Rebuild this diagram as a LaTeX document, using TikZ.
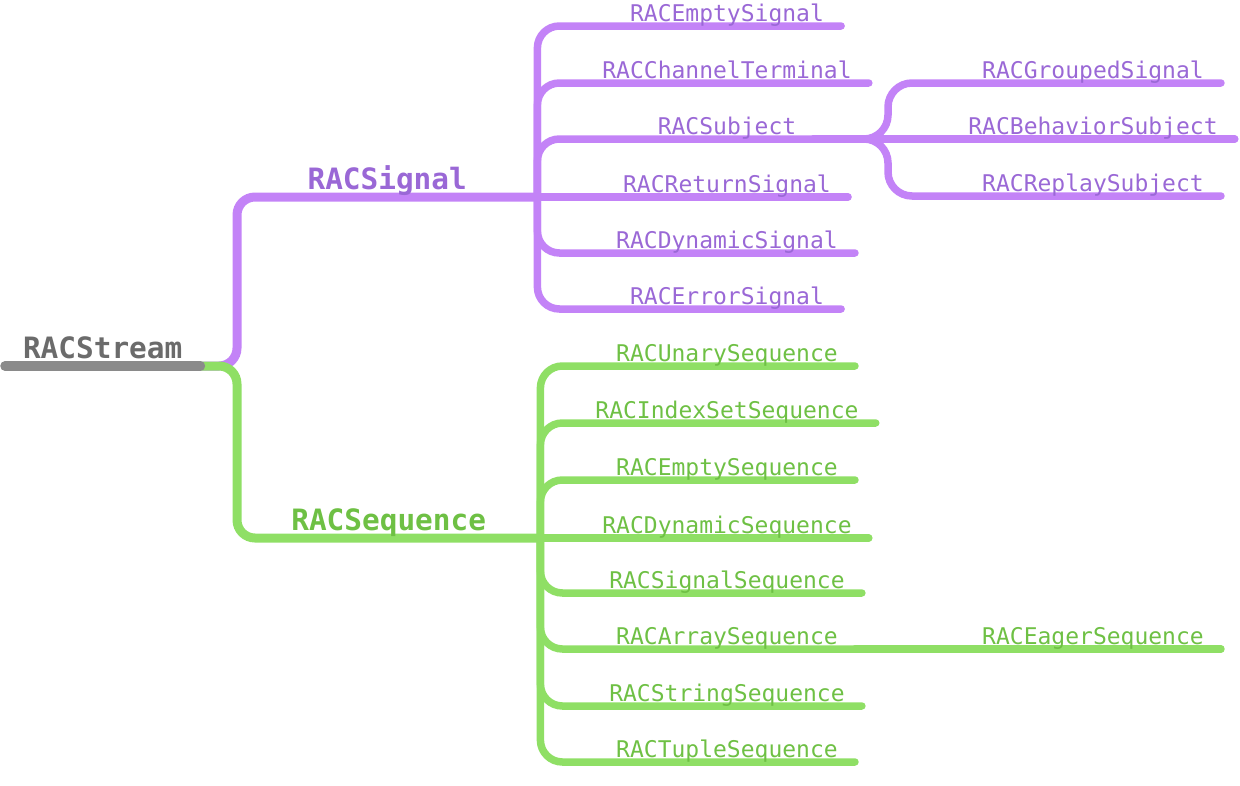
\documentclass[tikz,border=0pt]{standalone}
\usepackage{fontspec}
\usetikzlibrary{backgrounds}
\newfontfamily\mindfont{DejaVu Sans Mono}
\definecolor{rootline}{HTML}{8A8A8A}
\definecolor{roottext}{HTML}{6B6B6B}
\definecolor{sigline}{HTML}{C383F7}
\definecolor{sigtext}{HTML}{9A68D6}
\definecolor{seqline}{HTML}{8FDF65}
\definecolor{seqtext}{HTML}{6EC044}

\tikzset{
  leaf/.style={font=\mindfont\fontsize{23}{26}\selectfont, inner xsep=17pt,
    inner ysep=0pt, text depth=4.5pt, anchor=south},
  title/.style={font=\mindfont\bfseries\fontsize{29.4}{34}\selectfont,
    inner sep=0pt, text depth=7pt, anchor=south west},
  sigleaf/.style={leaf, text=sigtext},
  seqleaf/.style={leaf, text=seqtext},
  branch/.style={line width=7.5pt, line cap=round, rounded corners=22pt},
  stem/.style={line width=9pt, line cap=round, rounded corners=18pt},
}

\begin{document}
\begin{tikzpicture}[x=1pt, y=-1pt]
  \useasboundingbox (0,0) rectangle (1240,785);

  % titles
  \node[title, text=roottext, minimum width=195pt] (stream) at (5,366) {RACStream};
  \node[title, text=sigtext, minimum width=300pt] (signal) at (237,197) {RACSignal};
  \node[title, text=seqtext, minimum width=303pt] (sequence) at (237,538) {RACSequence};
  \coordinate (sigfork) at (signal.south east);
  \coordinate (seqfork) at (sequence.south east);

  % signal leaves
  \node[sigleaf] (empty) at (727,26) {RACEmptySignal};
  \node[sigleaf] (channel) at (727,83) {RACChannelTerminal};
  \node[sigleaf] (subject) at (727,139) {RACSubject};
  \node[sigleaf] (return) at (727,197) {RACReturnSignal};
  \node[sigleaf] (dynamic) at (727,253) {RACDynamicSignal};
  \node[sigleaf] (error) at (727,309) {RACErrorSignal};

  % subject leaves
  \coordinate (subfork) at (888,139);
  \node[sigleaf] (grouped) at (1093,83) {RACGroupedSignal};
  \node[sigleaf] (behavior) at (1093,139) {RACBehaviorSubject};
  \node[sigleaf] (replay) at (1093,196) {RACReplaySubject};

  % sequence leaves
  \node[seqleaf] (unary) at (727,366) {RACUnarySequence};
  \node[seqleaf] (indexset) at (727,423) {RACIndexSetSequence};
  \node[seqleaf] (emptyseq) at (727,480) {RACEmptySequence};
  \node[seqleaf] (dynamicseq) at (727,538) {RACDynamicSequence};
  \node[seqleaf] (signalseq) at (727,593) {RACSignalSequence};
  \node[seqleaf] (arrayseq) at (727,649) {RACArraySequence};
  \node[seqleaf] (stringseq) at (727,706) {RACStringSequence};
  \node[seqleaf] (tupleseq) at (727,762) {RACTupleSequence};
  \node[seqleaf] (eager) at (1093,649) {RACEagerSequence};

  \begin{scope}[on background layer]
    % main stems
    \draw[stem, sigline] (stream.south east) -| (signal.south west) -- (signal.south east);
    \draw[stem, seqline] (stream.south east) -| (sequence.south west) -- (sequence.south east);
    \draw[rootline, line width=9.5pt, line cap=round] (stream.south west) -- (stream.south east);

    % signal branches
    \foreach \n in {empty, channel, subject, dynamic, error}
      \draw[branch, sigline] (sigfork) |- (\n.south east);
    \draw[branch, sigline] (sigfork) -- (return.south east);
    \draw[branch, sigline, rounded corners=24pt] (subject.south east) -| (subfork |- grouped.south) -- (grouped.south east);
    \draw[branch, sigline] (subject.south east) -- (behavior.south east);
    \draw[branch, sigline, rounded corners=24pt] (subject.south east) -| (subfork |- replay.south) -- (replay.south east);

    % sequence branches
    \foreach \n in {unary, indexset, emptyseq, signalseq, arrayseq, stringseq, tupleseq}
      \draw[branch, seqline] (seqfork) |- (\n.south east);
    \draw[branch, seqline] (seqfork) -- (dynamicseq.south east);
    \draw[branch, seqline] (arrayseq.south east) -- (eager.south east);
  \end{scope}
\end{tikzpicture}
\end{document}
